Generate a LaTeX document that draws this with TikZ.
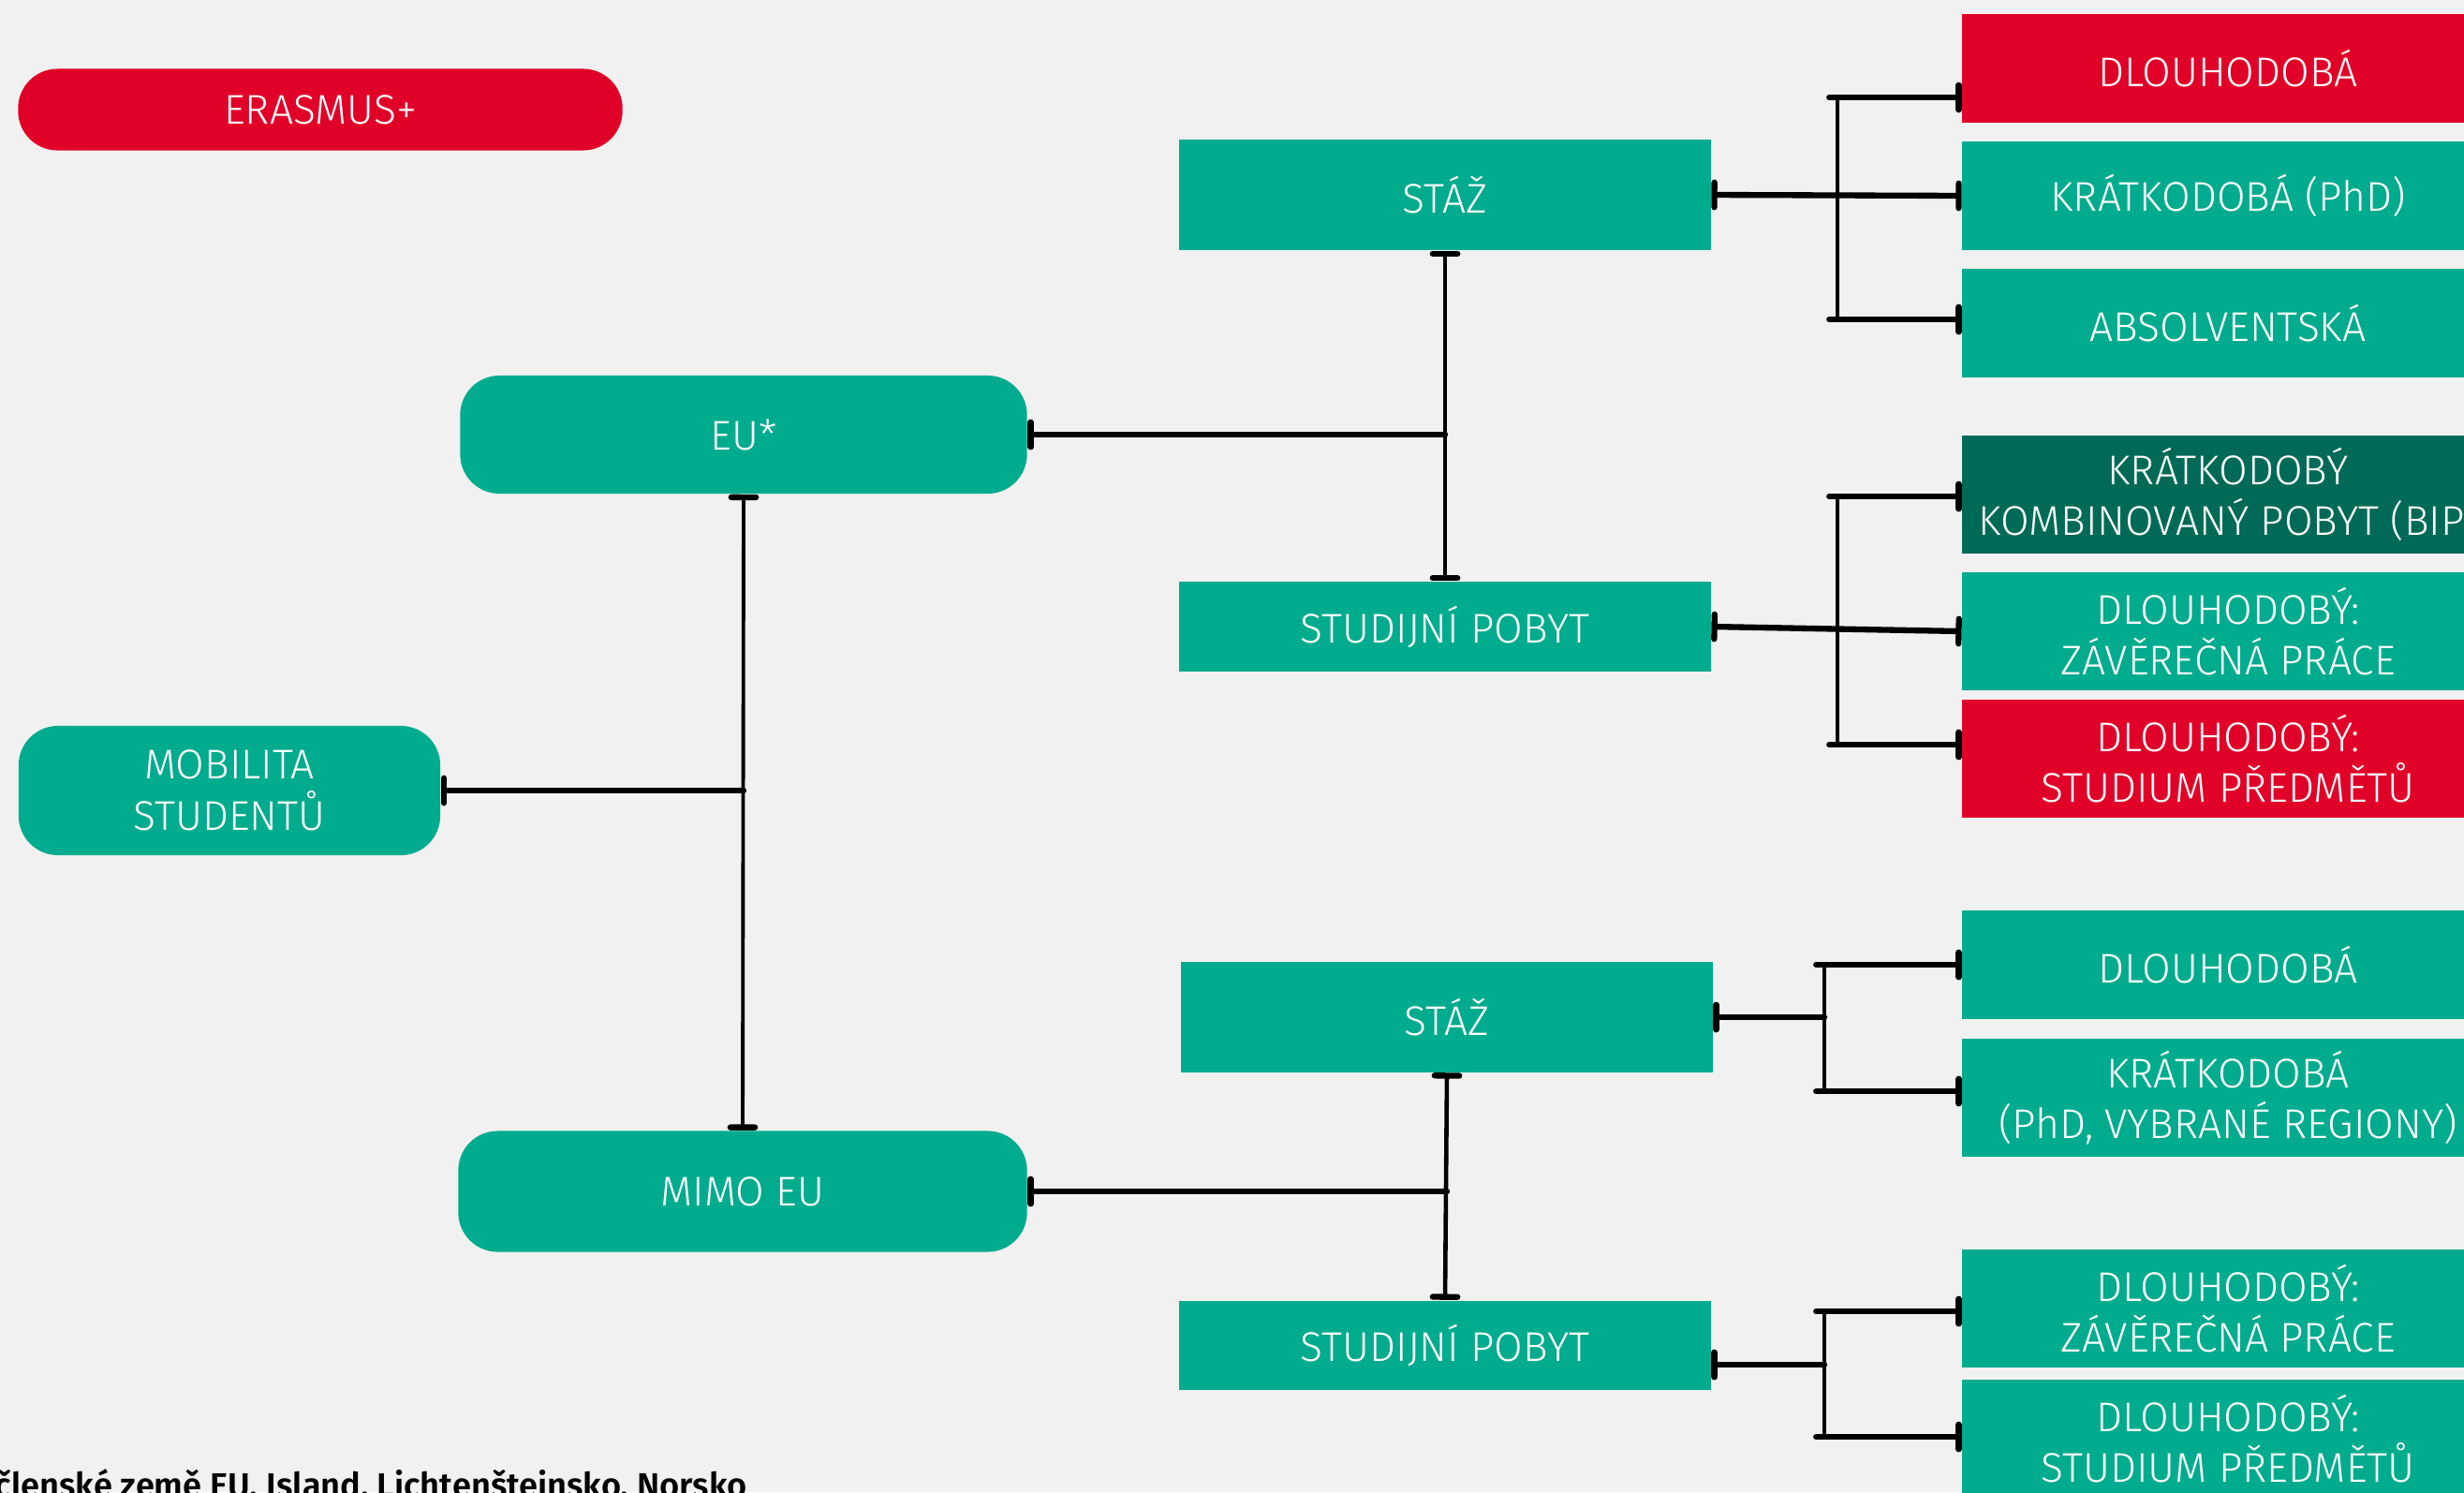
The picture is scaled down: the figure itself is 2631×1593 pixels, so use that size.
\documentclass[tikz,border=0pt]{standalone}
\usepackage{fontspec}
\setmainfont{Fira Sans}[UprightFont=* Light, BoldFont=* SemiBold]
\usepackage{tikz}
\usetikzlibrary{positioning, arrows.meta}

\definecolor{mugreen}{RGB}{0,171,142}
\definecolor{mudark}{RGB}{0,106,86}
\definecolor{mured}{RGB}{224,0,40}
\definecolor{mubg}{RGB}{241,241,241}

\begin{document}
\begin{tikzpicture}[
    x=0.01cm, y=-0.01cm,
    box/.style={fill=mugreen, text=white, align=center, inner sep=0pt,
        minimum width=5.67cm, font=\fontsize{12.6}{15.5}\selectfont},
    pill/.style={box, rounded corners=0.42cm},
    link/.style={line width=1.8pt, line cap=round},
    trunk/.style={line width=1.3pt},
    barstart/.style={{Bar[width=7.5pt, line width=1.8pt, round]}-},
    barend/.style={-{Bar[width=7.5pt, line width=1.8pt, round]}},
    barboth/.style={{Bar[width=7.5pt, line width=1.8pt, round]}-{Bar[width=7.5pt, line width=1.8pt, round]}},
    branch/.style={link, barend, shorten <=-2.5pt}
]
    \useasboundingbox (0,0) rectangle (2631,1593);
    \clip (0,0) rectangle (2631,1593);
    \fill[mubg] (0,0) rectangle (2631,1593);

    % === Left side ===
    \node[pill, fill=mured, minimum width=6.45cm, minimum height=0.87cm] (erasmus) at (342,117) {ERASMUS+};
    \node[pill, minimum width=4.5cm, minimum height=1.38cm] (mobilita) at (245,844) {MOBILITA\\STUDENTŮ};
    \node[pill, minimum width=6.05cm, minimum height=1.26cm] (eu) at (794,464) {EU*};
    \node[pill, minimum width=6.07cm, minimum height=1.29cm] (mimo) at (793,1272) {MIMO EU};

    % === Middle column ===
    \node[box, minimum height=1.18cm] (staz1) at (1543,208) {STÁŽ};
    \node[box, minimum height=0.96cm] (pobyt1) at (1543,669) {STUDIJNÍ POBYT};
    \node[box, minimum height=1.17cm] (staz2) at (1545,1086) {STÁŽ};
    \node[box, minimum height=0.95cm] (pobyt2) at (1543,1436) {STUDIJNÍ POBYT};

    % === Right column ===
    \node[box, fill=mured, minimum height=1.16cm] (r1) at (2379,73) {DLOUHODOBÁ};
    \node[box, minimum height=1.16cm] (r2) at (2379,209) {KRÁTKODOBÁ (PhD)};
    \node[box, minimum height=1.16cm] (r3) at (2379,345) {ABSOLVENTSKÁ};
    \node[box, fill=mudark, minimum height=1.25cm] (r4) at (2379,528) {KRÁTKODOBÝ\\KOMBINOVANÝ POBYT (BIP)};
    \node[box, minimum height=1.26cm] (r5) at (2379,674) {DLOUHODOBÝ:\\ZÁVĚREČNÁ PRÁCE};
    \node[box, fill=mured, minimum height=1.25cm] (r6) at (2379,810) {DLOUHODOBÝ:\\STUDIUM PŘEDMĚTŮ};
    \node[box, minimum height=1.15cm] (r7) at (2379,1030) {DLOUHODOBÁ};
    \node[box, minimum height=1.26cm] (r8) at (2379,1172) {KRÁTKODOBÁ\\(PhD, VYBRANÉ REGIONY)};
    \node[box, minimum height=1.26cm] (r9) at (2379,1397) {DLOUHODOBÝ:\\ZÁVĚREČNÁ PRÁCE};
    \node[box, minimum height=1.26cm] (r10) at (2379,1536) {DLOUHODOBÝ:\\STUDIUM PŘEDMĚTŮ};

    % Footnote
    \node[anchor=base west, inner sep=0pt, font=\bfseries\fontsize{10.3}{12}\selectfont] (note) at (-6,1598)
        {členské země EU, Island, Lichtenštejnsko, Norsko};

    % === Connectors ===
    \draw[trunk, barboth, line width=1.1pt] (eu.south) -- (mimo.north);
    \draw[link, barstart] (mobilita.east) -- (mobilita.east -| eu.south);

    \draw[trunk, barboth] (staz1.south) -- (pobyt1.north);
    \draw[link, barstart] (eu.east) -- (eu.east -| staz1.south);
    \draw[trunk, barboth] (staz2.south) -- (pobyt2.north);
    \draw[link, barstart] (mimo.east) -- (mimo.east -| staz2.south);

    % STÁŽ (EU)
    \coordinate (s1t) at (1962,104);
    \coordinate (s1b) at (1962,341);
    \draw[trunk] (s1t) -- (s1b);
    \draw[link, barboth] (staz1.east) -- (r2.west);
    \draw[branch] (s1t) -- (s1t -| r1.west);
    \draw[branch] (s1b) -- (s1b -| r3.west);

    % STUDIJNÍ POBYT (EU)
    \coordinate (s2t) at (1962,530);
    \coordinate (s2b) at (1962,795);
    \draw[trunk] (s2t) -- (s2b);
    \draw[link, barboth] (pobyt1.east) -- (r5.west);
    \draw[branch] (s2t) -- (s2t -| r4.west);
    \draw[branch] (s2b) -- (s2b -| r6.west);

    % STÁŽ (MIMO EU)
    \coordinate (s3t) at (1948,1030);
    \coordinate (s3b) at (1948,1165);
    \draw[trunk] (s3t) -- (s3b);
    \draw[link, barstart] (staz2.east) -- (staz2.east -| s3t);
    \draw[branch] (s3t) -- (s3t -| r7.west);
    \draw[branch] (s3b) -- (s3b -| r8.west);

    % STUDIJNÍ POBYT (MIMO EU)
    \coordinate (s4t) at (1948,1400);
    \coordinate (s4m) at (1948,1457);
    \coordinate (s4b) at (1948,1534);
    \draw[trunk] (s4t) -- (s4b);
    \draw[link, barstart] (pobyt2.east |- s4m) -- (s4m);
    \draw[branch] (s4t) -- (s4t -| r9.west);
    \draw[branch] (s4b) -- (s4b -| r10.west);
\end{tikzpicture}
\end{document}
